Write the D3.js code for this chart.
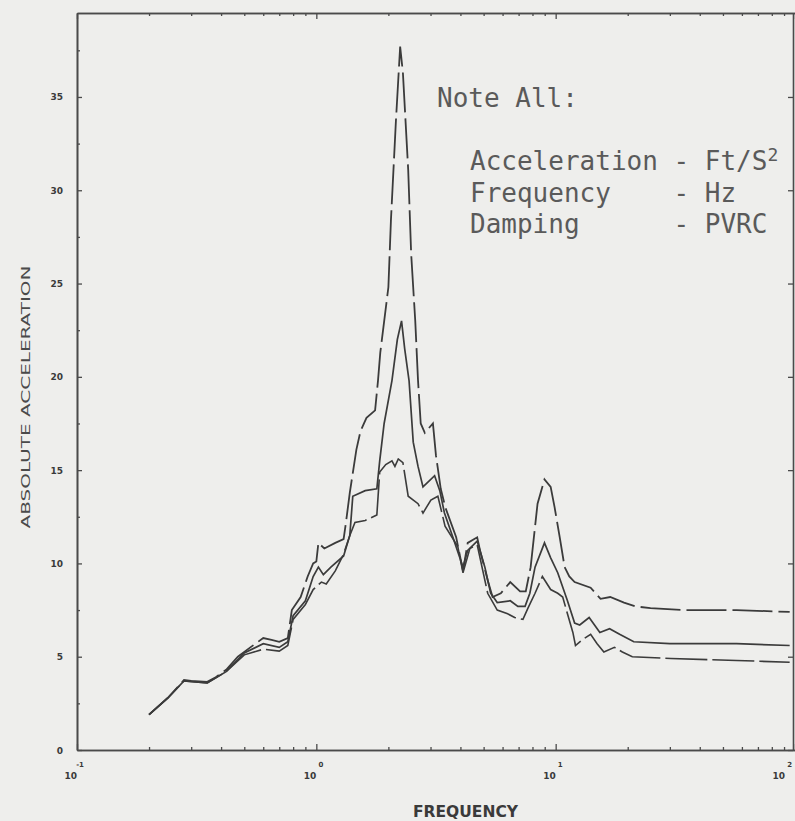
<!DOCTYPE html>
<html>
<head>
<meta charset="utf-8">
<script src="https://cdn.jsdelivr.net/npm/d3@7"></script>
<style>
  body { margin: 0; background: #eeeeec; }
  svg { display: block; }
</style>
</head>
<body>
<svg id="chart" width="795" height="821"></svg>
<script>
// values: [frequency Hz, acceleration ft/s2]
const upperCurve = [
  [0.2, 1.9], [0.24, 2.8], [0.28, 3.75], [0.3, 3.7], [0.35, 3.65], [0.38, 3.9], [0.42, 4.3],
  [0.47, 5.0], [0.53, 5.5], [0.6, 6.0], [0.65, 5.9], [0.7, 5.8], [0.76, 6.0], [0.79, 7.5],
  [0.86, 8.2], [0.92, 9.3], [0.97, 10.0], [1.0, 10.1], [1.02, 11.1], [1.08, 10.8], [1.2, 11.1],
  [1.3, 11.3], [1.33, 12.2], [1.38, 13.8], [1.47, 16.1], [1.53, 17.1], [1.62, 17.8], [1.76, 18.2],
  [1.81, 19.8], [1.85, 21.3], [2.0, 24.8], [2.05, 28.4], [2.15, 33.7], [2.24, 37.7], [2.3, 36.3],
  [2.42, 31.1], [2.49, 26.6], [2.59, 23.0], [2.66, 19.8], [2.73, 17.5], [2.84, 17.0], [3.07, 17.5],
  [3.16, 15.8], [3.31, 14.0], [3.46, 13.0], [3.84, 11.4], [4.1, 9.6], [4.29, 11.1], [4.7, 11.4],
  [4.83, 10.7], [5.2, 9.1], [5.45, 8.2], [5.9, 8.4], [6.46, 9.0], [7.1, 8.5], [7.5, 8.5],
  [7.86, 9.8], [8.4, 13.2], [8.98, 14.5], [9.53, 14.1], [9.9, 13.0], [10.4, 11.4], [10.9, 9.8],
  [11.4, 9.3], [12.0, 9.0], [14.0, 8.7], [15.4, 8.1], [16.9, 8.2], [19.3, 7.9], [21.5, 7.7],
  [24.9, 7.6], [35, 7.5], [57, 7.5], [95, 7.4]
]

const middleCurve = [
  [0.2, 1.9], [0.24, 2.8], [0.28, 3.7], [0.35, 3.6], [0.42, 4.2], [0.5, 5.2], [0.6, 5.7],
  [0.7, 5.5], [0.76, 5.8], [0.8, 7.2], [0.9, 8.0], [0.97, 9.3], [1.02, 9.8], [1.07, 9.4],
  [1.15, 9.8], [1.3, 10.4], [1.38, 11.5], [1.42, 13.6], [1.6, 13.9], [1.79, 14.0], [1.84, 15.5],
  [1.92, 17.5], [2.07, 19.8], [2.18, 22.0], [2.27, 23.0], [2.34, 21.5], [2.44, 19.8], [2.54, 16.5],
  [2.66, 15.2], [2.79, 14.1], [3.12, 14.7], [3.28, 13.9], [3.43, 12.7], [3.72, 11.4], [4.1, 9.8],
  [4.29, 10.7], [4.7, 11.2], [5.06, 9.8], [5.35, 8.4], [5.7, 7.9], [6.46, 8.0], [6.95, 7.7],
  [7.45, 7.7], [7.8, 8.4], [8.2, 9.8], [8.98, 11.1], [9.53, 10.3], [10.2, 9.5], [11.2, 8.0],
  [12.0, 6.8], [12.6, 6.7], [13.8, 7.1], [15.3, 6.3], [16.8, 6.5], [18.5, 6.2], [21.2, 5.8],
  [30, 5.7], [57, 5.7], [95, 5.6]
]

const lowerCurve = [
  [0.2, 1.9], [0.24, 2.8], [0.28, 3.7], [0.35, 3.6], [0.42, 4.2], [0.5, 5.1], [0.6, 5.4],
  [0.7, 5.3], [0.76, 5.6], [0.8, 7.0], [0.9, 7.8], [0.97, 8.6], [1.05, 9.0], [1.1, 8.9],
  [1.2, 9.6], [1.3, 10.5], [1.38, 11.5], [1.45, 12.2], [1.6, 12.3], [1.79, 12.6], [1.84, 14.9],
  [1.95, 15.3], [2.07, 15.5], [2.13, 15.2], [2.2, 15.6], [2.3, 15.4], [2.42, 13.6], [2.66, 13.2],
  [2.79, 12.7], [3.01, 13.4], [3.22, 13.6], [3.45, 12.0], [3.9, 10.9], [4.1, 9.5], [4.38, 10.8],
  [4.7, 11.0], [5.2, 8.4], [5.7, 7.5], [6.3, 7.3], [6.74, 7.1], [7.3, 7.0], [7.66, 7.6],
  [8.2, 8.4], [8.8, 9.3], [9.53, 8.6], [10.2, 8.4], [10.7, 8.2], [11.2, 7.3], [11.8, 6.3],
  [12.1, 5.6], [12.9, 5.9], [14.0, 6.2], [14.9, 5.7], [15.9, 5.25], [17.6, 5.5], [19.0, 5.25],
  [20.9, 5.0], [30.3, 4.9], [57, 4.8], [95, 4.7]
]

const yMajorTicks = [0, 5, 10, 15, 20, 25, 30, 35]
const yMinorTicks = [2.5, 7.5, 12.5, 17.5, 22.5, 27.5, 32.5, 37.5]
const xDecades = [0.1, 1, 10, 100]
const xDecadeExponents = ['-1', '0', '1', '2']

const noteTitle = 'Note All:'
const noteLines = [
  ['Acceleration - Ft/S', '2'],
  ['Frequency    - Hz', ''],
  ['Damping      - PVRC', '']
]

const svg = d3.select('#chart')
const ink = '#3b3b3b'

const xScale = d3.scaleLog().domain([0.1, 100]).range([77, 795])
const yScale = d3.scaleLinear().domain([0, 39.5]).range([750, 13])

const xMinor = xScale.ticks().filter(t => !xDecades.some(d => Math.abs(d - t) < 1e-9))

// frame + ticks
const axisG = svg.append('g').attr('class', 'axes')

axisG.append('g')
  .attr('transform', `translate(0,${yScale(0)})`)
  .call(d3.axisBottom(xScale).tickValues(xMinor).tickSize(-3).tickSizeOuter(0).tickFormat(''))
axisG.append('g')
  .attr('transform', `translate(0,${yScale(0)})`)
  .call(d3.axisBottom(xScale).tickValues(xDecades).tickSize(-6).tickSizeOuter(0).tickFormat(''))
axisG.append('g')
  .attr('transform', `translate(0,${yScale(39.5)})`)
  .call(d3.axisTop(xScale).tickValues(xMinor).tickSize(-3).tickSizeOuter(0).tickFormat(''))
axisG.append('g')
  .attr('transform', `translate(0,${yScale(39.5)})`)
  .call(d3.axisTop(xScale).tickValues(xDecades).tickSize(-6).tickSizeOuter(0).tickFormat(''))

axisG.append('g')
  .attr('transform', `translate(${xScale(0.1)},0)`)
  .call(d3.axisLeft(yScale).tickValues(yMajorTicks).tickSize(-5).tickSizeOuter(0).tickFormat(''))
axisG.append('g')
  .attr('transform', `translate(${xScale(0.1)},0)`)
  .call(d3.axisLeft(yScale).tickValues(yMinorTicks).tickSize(-3).tickSizeOuter(0).tickFormat(''))
axisG.append('g')
  .attr('transform', `translate(${xScale(100) - 2},0)`)
  .call(d3.axisRight(yScale).tickValues(yMajorTicks).tickSize(-5).tickSizeOuter(0).tickFormat(''))

axisG.selectAll('path.domain').attr('stroke', '#4a4a4a').attr('stroke-width', 1.6)
axisG.selectAll('.tick line').attr('stroke', '#4a4a4a').attr('stroke-width', 1.3)

// y tick labels
svg.append('g')
  .selectAll('text')
  .data(yMajorTicks)
  .enter()
  .append('text')
  .attr('x', 63)
  .attr('y', d => yScale(d) + 3.5)
  .attr('text-anchor', 'end')
  .attr('font-family', 'DejaVu Sans, sans-serif')
  .attr('font-weight', 'bold')
  .attr('font-size', 9)
  .attr('fill', '#3a3a3a')
  .text(d => d)

// x tick labels: 10 with exponent (last one kept inside the page edge)
const labelX = d => Math.min(xScale(d), 785)
const xLab = svg.append('g')
  .attr('font-family', 'DejaVu Sans, sans-serif')
  .attr('font-weight', 'bold')
  .attr('fill', '#3a3a3a')
xLab.selectAll('text.base')
  .data(xDecades)
  .enter()
  .append('text')
  .attr('class', 'base')
  .attr('x', d => labelX(d))
  .attr('y', 779)
  .attr('text-anchor', 'end')
  .attr('font-size', 9)
  .text('10')
xLab.selectAll('text.exp')
  .data(xDecades)
  .enter()
  .append('text')
  .attr('class', 'exp')
  .attr('x', d => labelX(d) + 7)
  .attr('y', 767)
  .attr('text-anchor', 'end')
  .attr('font-size', 7)
  .text((d, i) => xDecadeExponents[i])

// axis titles
svg.append('text')
  .attr('transform', 'translate(30,397) rotate(-90)')
  .attr('text-anchor', 'middle')
  .attr('font-family', 'DejaVu Sans, sans-serif')
  .attr('font-size', 12)
  .attr('fill', '#4a4a4a')
  .attr('textLength', 263)
  .attr('lengthAdjust', 'spacingAndGlyphs')
  .text('ABSOLUTE ACCELERATION')

svg.append('text')
  .attr('x', 413)
  .attr('y', 817)
  .attr('font-family', 'DejaVu Sans, sans-serif')
  .attr('font-weight', 'bold')
  .attr('font-size', 15)
  .attr('fill', '#3a3a3a')
  .attr('textLength', 105)
  .attr('lengthAdjust', 'spacingAndGlyphs')
  .text('FREQUENCY')

// curves
const line = d3.line().x(d => xScale(d[0])).y(d => yScale(d[1]))

svg.append('path')
  .datum(upperCurve)
  .attr('fill', 'none')
  .attr('stroke', ink)
  .attr('stroke-width', 1.8)
  .attr('stroke-dasharray', '40,6')
  .attr('d', line)

svg.append('path')
  .datum(middleCurve)
  .attr('fill', 'none')
  .attr('stroke', ink)
  .attr('stroke-width', 1.7)
  .attr('d', line)

svg.append('path')
  .datum(lowerCurve)
  .attr('fill', 'none')
  .attr('stroke', ink)
  .attr('stroke-width', 1.6)
  .attr('stroke-dasharray', '42,5')
  .attr('d', line)

// note block
const note = svg.append('g')
  .attr('font-family', 'DejaVu Sans Mono, monospace')
  .attr('font-size', 26)
  .attr('fill', '#5a5a5a')

note.append('text')
  .attr('x', 437)
  .attr('y', 107)
  .text(noteTitle)

const noteRows = note.selectAll('text.row')
  .data(noteLines)
  .enter()
  .append('text')
  .attr('class', 'row')
  .attr('x', 470)
  .attr('y', (d, i) => 170 + i * 31.5)
  .attr('xml:space', 'preserve')
  .style('white-space', 'pre')

noteRows.append('tspan').text(d => d[0])
noteRows.append('tspan')
  .attr('font-size', 18)
  .attr('dy', -9)
  .text(d => d[1])
</script>
</body>
</html>
